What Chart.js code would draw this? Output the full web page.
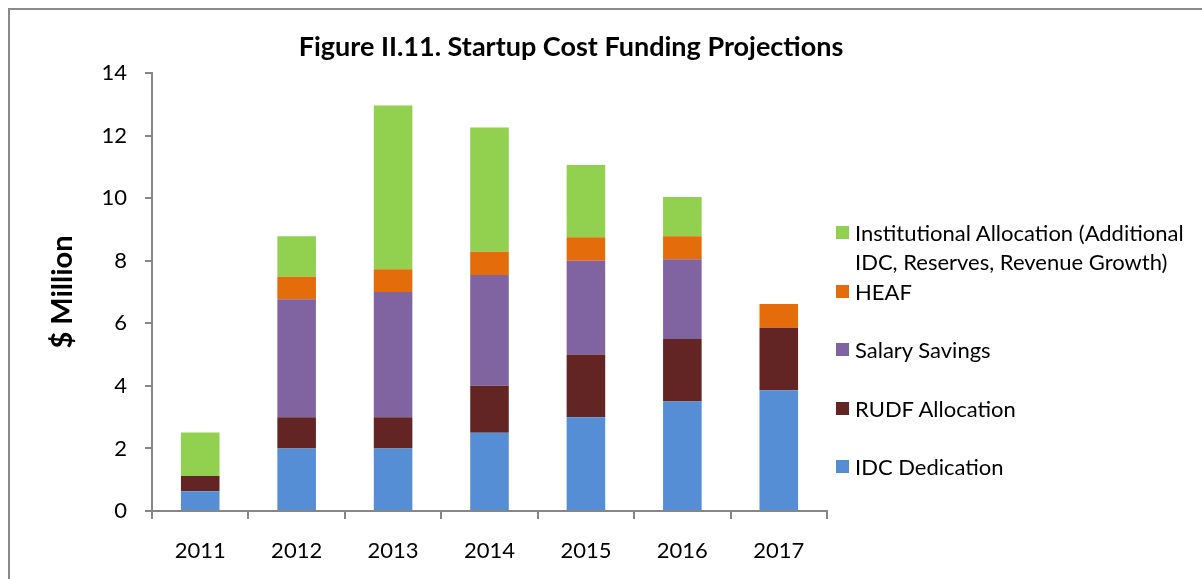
<!DOCTYPE html>
<html>
<head>
<meta charset="utf-8">
<script src="https://cdn.jsdelivr.net/npm/chart.js@4.4.1/dist/chart.umd.min.js"></script>
<style>
  html, body { margin: 0; padding: 0; background: #fff; overflow: hidden; }
  body { width: 1202px; height: 579px; position: relative; font-family: Lato, sans-serif; }
  #frame { position: absolute; left: 8px; top: 8px; width: 1300px; height: 700px;
    border-top: 2px solid #8a8a8a; border-left: 2px solid #8a8a8a; }
  #wrap { position: absolute; left: 0; top: 0; width: 1142px; height: 579px; }
  #legend { position: absolute; left: 836px; top: 218px; }
  .item { position: relative; height: 58.6px; padding-left: 19px; width: 345px;
    font-size: 22px; line-height: 29px; color: #000; }
  .item span { position: absolute; left: 0; top: 8px; width: 13px; height: 13px; }
</style>
</head>
<body>
<div id="frame"></div>
<div id="wrap"><canvas id="myChart"></canvas></div>
<div id="legend"></div>
<script>
// categories
const years = ["2011", "2012", "2013", "2014", "2015", "2016", "2017"];
// $ million per funding source (stacked, bottom to top)
const idcDedication = [0.63, 2.0, 2.0, 2.5, 3.0, 3.5, 3.86];
const rudfAllocation = [0.49, 1.0, 1.0, 1.5, 2.0, 2.0, 2.0];
const salarySavings = [0, 3.77, 4.0, 3.54, 3.0, 2.55, 0];
const heaf = [0, 0.72, 0.73, 0.75, 0.75, 0.73, 0.76];
const institutional = [1.39, 1.29, 5.23, 3.97, 2.31, 1.26, 0];
// y axis ticks
const yTicks = [0, 2, 4, 6, 8, 10, 12, 14];

const seriesNames = [
  "IDC Dedication",
  "RUDF Allocation",
  "Salary Savings",
  "HEAF",
  "Institutional Allocation (Additional IDC, Reserves, Revenue Growth)",
];
const seriesColors = ["#558ed5", "#632523", "#8064a2", "#e46c0a", "#92d050"];
const seriesValues = [idcDedication, rudfAllocation, salarySavings, heaf, institutional];

const axisGray = "#868686";
const tickFont = { family: "Lato", size: 22 };

const ctx = document.getElementById("myChart").getContext("2d");
const myChart = new Chart(ctx, {
  type: "bar",
  data: {
    labels: years,
    datasets: seriesNames.map((name, i) => ({
      label: name,
      data: seriesValues[i],
      backgroundColor: seriesColors[i],
      borderWidth: 0,
      categoryPercentage: 1,
      barPercentage: 0.4,
    })),
  },
  options: {
    responsive: true,
    maintainAspectRatio: false,
    animation: false,
    layout: { padding: 0 },
    plugins: {
      legend: { display: false },
      tooltip: { enabled: false },
      title: {
        display: true,
        text: "Figure II.11. Startup Cost Funding Projections",
        color: "#000",
        font: { family: "Lato", size: 27, weight: "bold", lineHeight: 1.2 },
        padding: { top: 30.8, bottom: 9.8 },
      },
    },
    scales: {
      x: {
        stacked: true,
        offset: true,
        grid: {
          offset: true,
          drawOnChartArea: false,
          color: axisGray,
          lineWidth: 2,
          tickLength: 8,
        },
        border: { display: true, color: axisGray, width: 2 },
        ticks: { color: "#000", font: tickFont, padding: 19, maxRotation: 0 },
        afterFit: (scale) => {
          scale.height = 68;
        },
      },
      y: {
        stacked: true,
        min: 0,
        max: 14,
        afterBuildTicks: (scale) => {
          scale.ticks = yTicks.map((v) => ({ value: v }));
        },
        grid: {
          drawOnChartArea: false,
          color: axisGray,
          lineWidth: 2,
          tickLength: 7,
        },
        border: { display: true, color: axisGray, width: 2 },
        ticks: { color: "#000", font: tickFont, padding: 18 },
        title: {
          display: true,
          text: "$ Million",
          color: "#000",
          font: { family: "Lato", size: 29, weight: "bold", lineHeight: 1.2 },
          padding: { top: 45, bottom: 0 },
        },
        afterFit: (scale) => {
          scale.width = 152;
        },
      },
      // empty right-hand box that leaves room for the legend
      legendSpace: {
        type: "linear",
        position: "right",
        display: true,
        grid: { display: false },
        border: { display: false },
        ticks: { display: false },
        afterFit: (scale) => {
          scale.width = 315;
        },
      },
    },
  },
});

// legend, top entry is the top of the stack
const legend = document.getElementById("legend");
for (let i = seriesNames.length - 1; i >= 0; i--) {
  const item = document.createElement("div");
  item.className = "item";
  const box = document.createElement("span");
  box.style.background = seriesColors[i];
  item.appendChild(box);
  item.appendChild(document.createTextNode(seriesNames[i]));
  legend.appendChild(item);
}
</script>
</body>
</html>
